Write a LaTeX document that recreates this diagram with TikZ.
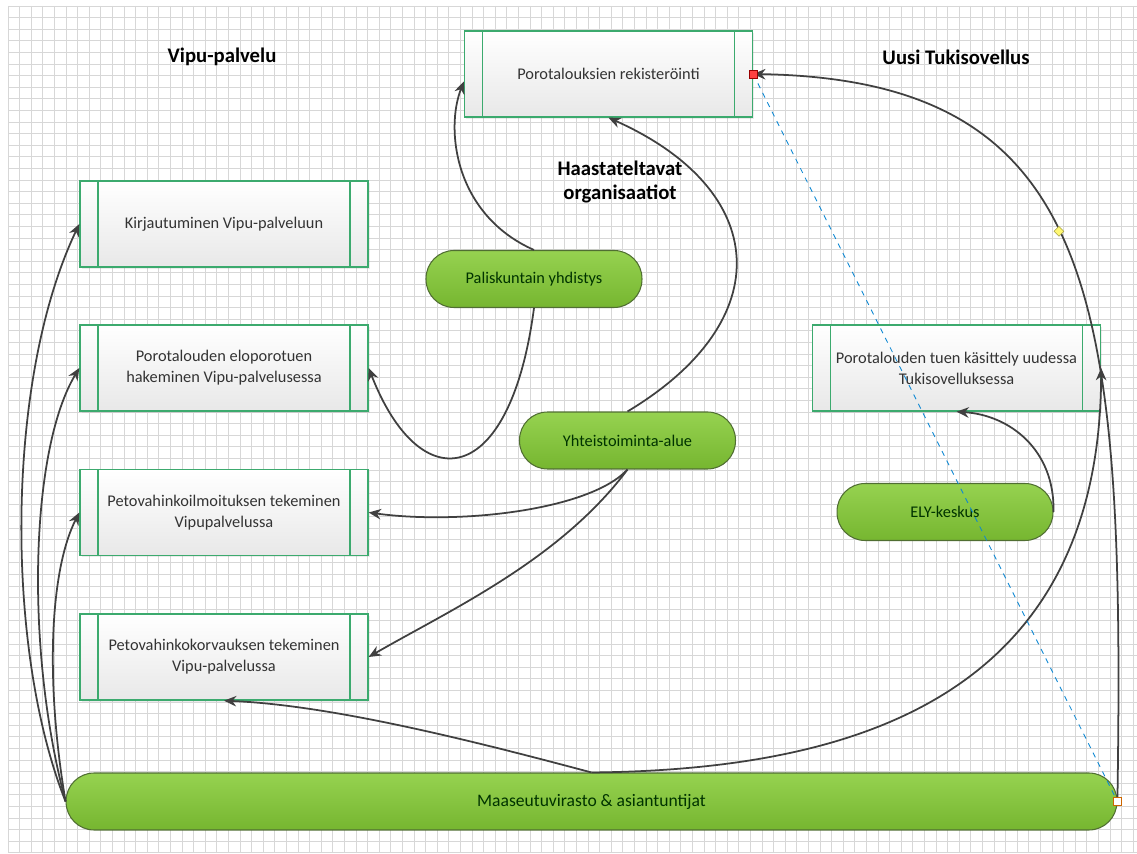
\documentclass[tikz,border=0pt]{standalone}
\usepackage{fontspec}
\setmainfont{Carlito}
\usetikzlibrary{arrows.meta,shadows,shapes.geometric}

\definecolor{boxline}{RGB}{60,170,110}
\definecolor{leaf}{RGB}{150,210,80}
\definecolor{leafdark}{RGB}{118,182,48}
\definecolor{leafline}{RGB}{80,110,50}
\definecolor{linkgray}{RGB}{64,64,64}
\definecolor{gridgray}{RGB}{215,215,215}

\def\gridstep{11.6}

\begin{document}
\begin{tikzpicture}[x=0.02cm,y=-0.02cm,>={Stealth[length=7pt,width=6pt]}]
        \tikzstyle{task}=[draw=boxline,line width=0.8pt,top color=white,bottom color=black!9,
            minimum width=5.76cm,minimum height=1.72cm,inner sep=0pt,align=center,
            font=\fontsize{9.3}{12}\selectfont,text=black!80,
            drop shadow={opacity=0.15,shadow xshift=1pt,shadow yshift=-1pt},
            path picture={
                \draw[boxline,line width=0.7pt] ([xshift=0.36cm]path picture bounding box.north west) -- ([xshift=0.36cm]path picture bounding box.south west);
                \draw[boxline,line width=0.7pt] ([xshift=-0.36cm]path picture bounding box.north east) -- ([xshift=-0.36cm]path picture bounding box.south east);}]
        \tikzstyle{org}=[draw=leafline,line width=0.6pt,rounded corners=0.56cm,top color=leaf,bottom color=leafdark,
            minimum width=4.32cm,minimum height=1.14cm,inner sep=0pt,
            font=\fontsize{9.3}{11}\selectfont,text=black!80!green]
        \tikzstyle{link}=[->,draw=linkgray,line width=1pt]
        \tikzstyle{head}=[font=\bfseries\fontsize{11.8}{14}\selectfont,align=center]

        \useasboundingbox (0,0) rectangle (1137,854);

        % Draw the background grid
        \foreach \i in {0,...,97}
            \draw[gridgray,line width=0.4pt] (8+\i*\gridstep,6) -- (8+\i*\gridstep,852);
        \foreach \j in {0,...,73}
            \draw[gridgray,line width=0.4pt] (8,6+\j*\gridstep) -- (1137,6+\j*\gridstep);

        % Draw the titles
        \node[head] (vipu) at (222,57) {Vipu-palvelu};
        \node[head] (uusi) at (956,57) {Uusi Tukisovellus};
        \node[head] (haast) at (620,182) {Haastateltavat\\organisaatiot};

        % Draw the service steps
        \node[task] (reg) at (608.5,74) {Porotalouksien rekisteröinti};
        \node[task] (kirj) at (224,224) {Kirjautuminen Vipu-palveluun};
        \node[task] (elo) at (224,368) {Porotalouden eloporotuen\\hakeminen Vipu-palvelusessa};
        \node[task] (ilm) at (224,512.5) {Petovahinkoilmoituksen tekeminen\\Vipupalvelussa};
        \node[task] (korv) at (224,657) {Petovahinkokorvauksen tekeminen\\Vipu-palvelussa};
        \node[task] (tuki) at (956.5,368) {Porotalouden tuen käsittely uudessa\\Tukisovelluksessa};

        % Draw the organisations
        \node[org] (pal) at (534,279) {Paliskuntain yhdistys};
        \node[org] (yht) at (627.5,440.5) {Yhteistoiminta-alue};
        \node[org] (ely) at (945,512) {ELY-keskus};
        \node[org,minimum width=21.02cm,font=\fontsize{10}{12}\selectfont] (maa) at (591.5,801.5) {Maaseutuvirasto \& asiantuntijat};

        % Connect the organisations with the steps
        \draw[link] (pal.north) .. controls (455,215) and (445,130) .. (reg.183);
        \draw[link] (pal.south) .. controls (510,490) and (420,500) .. (elo.east);
        \draw[link] (yht.north) .. controls (780,320) and (770,190) .. (reg.south);
        \draw[link] (yht.south) .. controls (590,510) and (460,525) .. (ilm.east);
        \draw[link] (yht.south) .. controls (560,560) and (450,610) .. (korv.east);
        \draw[link] (ely.east) .. controls (1055,450) and (1010,415) .. (tuki.south);
        \draw[link] (maa.west) .. controls (5,650) and (5,380) .. (kirj.west);
        \draw[link] (maa.west) .. controls (25,650) and (30,450) .. (elo.west);
        \draw[link] (maa.west) .. controls (45,680) and (50,570) .. (ilm.west);
        \draw[link] (maa.north) .. controls (470,740) and (330,705) .. (korv.south);
        \draw[link] (maa.north) .. controls (850,770) and (1100,700) .. (tuki.east);
        \draw[link] (maa.east) .. controls (1125,300) and (1100,80) .. (reg.east)
            node[pos=0.53,diamond,fill=yellow!55,draw=yellow!60!black,line width=0.3pt,minimum size=0.2cm,inner sep=0pt] (hnd) {};

        % Selection marks
        \draw[cyan!70!blue,dashed,line width=0.5pt] (reg.east) -- (maa.east);
        \node[draw=red!60!black,fill=red!75,minimum size=0.16cm,inner sep=0pt] (rs) at (reg.east) {};
        \node[draw=orange!80!black,fill=white,minimum size=0.16cm,inner sep=0pt] (ws) at (maa.east) {};
\end{tikzpicture}
\end{document}
